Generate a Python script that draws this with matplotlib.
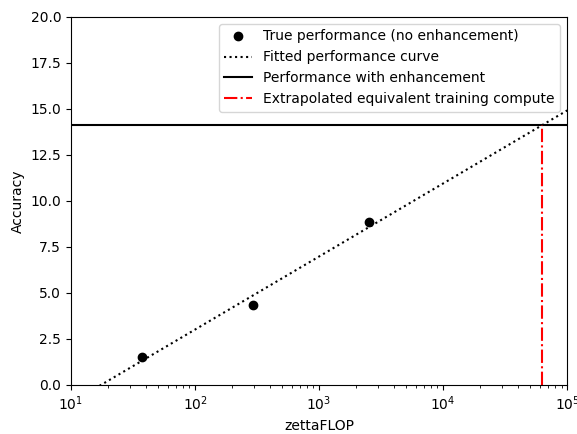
import numpy as np
import matplotlib
matplotlib.use("Agg")
import matplotlib.pyplot as plt

# Data
compute_zflop = [37.4, 294, 2530]
accuracy = [1.52, 4.35, 8.86]
fit_slope = 3.97          # accuracy per decade of compute
fit_intercept = -4.93
enhanced_accuracy = 14.1

fig = plt.figure(figsize=(5.77, 4.34), dpi=100)
ax = fig.add_axes([0.123, 0.113, 0.860, 0.848])

ax.set_xscale("log")
ax.set_xlim(10, 1e5)
ax.set_ylim(0, 20)

ax.plot(compute_zflop, accuracy, "o", color="black", label="True performance (no enhancement)")
xs = np.logspace(1, 5, 200)
ax.plot(xs, fit_slope * np.log10(xs) + fit_intercept, ":", color="black",
        label="Fitted performance curve")
ax.axhline(enhanced_accuracy, color="black", label="Performance with enhancement")
x_eq = 10 ** ((enhanced_accuracy - fit_intercept) / fit_slope)
ax.plot([x_eq, x_eq], [0, enhanced_accuracy], "-.", color="red",
        label="Extrapolated equivalent training compute")

ax.set_xlabel("zettaFLOP")
ax.set_ylabel("Accuracy")
ax.legend(loc="upper right")

fig.savefig("out.png", dpi=100)
